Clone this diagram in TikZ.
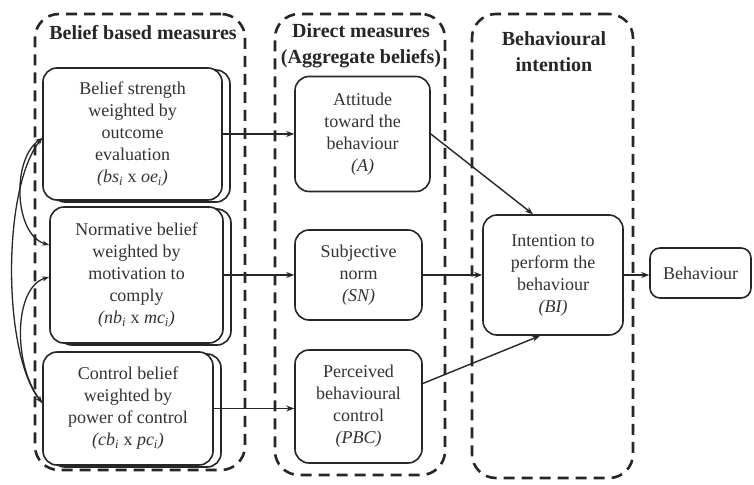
\documentclass[tikz,border=0pt]{standalone}
\usepackage{fontspec}
\setmainfont{Liberation Serif}
\usetikzlibrary{arrows.meta,shadows}
\begin{document}
\begin{tikzpicture}[x=1pt,y=-1pt,
  group/.style={draw=black!85,line width=2.6pt,dash pattern=on 11pt off 7pt,
    rounded corners=24pt,inner sep=0pt},
  boxbase/.style={draw=black!85,line width=1.6pt,rounded corners=14pt,fill=white,
    align=center,inner sep=2pt,text=black!80,font=\fontsize{18}{22}\selectfont},
  beliefbox/.style={boxbase,copy shadow={shadow xshift=8pt,shadow yshift=-2pt,
    line width=1.6pt,draw=black!85,fill=white}},
  grouptitle/.style={font=\bfseries\fontsize{20}{26}\selectfont,text=black!85,
    align=center,inner sep=1pt},
  arr/.style={-{Stealth[length=8pt,width=6pt]},line width=1.4pt,draw=black!85},
  corr/.style={{Stealth[length=7pt,width=5pt]}-{Stealth[length=7pt,width=5pt]},
    line width=1.3pt,draw=black!85}
]
\useasboundingbox (0,0) rectangle (754,484);

% dashed groupings
\node[group,minimum width=210pt,minimum height=456pt] (g1) at (140,242) {};
\node[group,minimum width=170pt,minimum height=461pt] (g2) at (360,244.5) {};
\node[group,minimum width=161pt,minimum height=464pt] (g3) at (552.5,246) {};

% group titles
\node[grouptitle] (t1) at (143,33) {Belief based measures};
\node[grouptitle] (t2) at (361,46) {Direct measures\\(Aggregate beliefs)};
\node[grouptitle] (t3) at (554,52) {Behavioural\\intention};

% belief based measures
\node[beliefbox,minimum width=179pt,minimum height=132pt] (b1) at (132.5,134)
  {Belief strength\\weighted by\\outcome\\evaluation\\\textit{(bs\textsubscript{i}} x \textit{oe\textsubscript{i})}};
\node[beliefbox,minimum width=173pt,minimum height=136pt] (b2) at (136.5,275)
  {Normative belief\\weighted by\\motivation to\\comply\\\textit{(nb\textsubscript{i}} x \textit{mc\textsubscript{i})}};
\node[beliefbox,minimum width=170pt,minimum height=113pt] (b3) at (128,408.5)
  {Control belief\\weighted by\\power of control\\\textit{(cb\textsubscript{i}} x \textit{pc\textsubscript{i})}};

% direct measures
\node[boxbase,minimum width=135pt,minimum height=115pt] (A) at (362.5,134)
  {Attitude\\toward the\\behaviour\\\textit{(A)}};
\node[boxbase,minimum width=127pt,minimum height=90pt] (SN) at (358.5,275)
  {Subjective\\norm\\\textit{(SN)}};
\node[boxbase,minimum width=127pt,minimum height=113pt] (PBC) at (358.5,406.5)
  {Perceived\\behavioural\\control\\\textit{(PBC)}};

% intention and behaviour
\node[boxbase,minimum width=140pt,minimum height=120pt] (BI) at (553,275)
  {Intention to\\perform the\\behaviour\\\textit{(BI)}};
\node[boxbase,rounded corners=10pt,minimum width=101pt,minimum height=50pt] (Beh) at (700.5,273)
  {Behaviour};

% correlations between belief sets
\draw[corr] ([yshift=-4pt]b1.west) .. controls +(-31,22) and +(-35,-10) .. ([yshift=30pt]b2.west);
\draw[corr] ([yshift=-2pt]b2.west) .. controls +(-35,10) and +(-30,-40) .. ([yshift=5.5pt]b3.west);
\draw[corr] ([yshift=-4pt]b1.west) .. controls +(-40,50) and +(-40,-50) .. ([yshift=5.5pt]b3.west);

% paths of influence
\draw[arr] (b1.east) -- (b1.east -| A.west);
\draw[arr] (b2.east) -- (b2.east -| SN.west);
\draw[arr] (b3.east) -- (b3.east -| PBC.west);
\draw[arr] (A.east) -- ([xshift=-20pt]BI.north);
\draw[arr] (SN.east) -- (BI.west);
\draw[arr] ([yshift=23pt]PBC.east) -- ([xshift=-13pt]BI.south);
\draw[arr] (BI.east) -- (BI.east -| Beh.west);
\end{tikzpicture}
\end{document}
